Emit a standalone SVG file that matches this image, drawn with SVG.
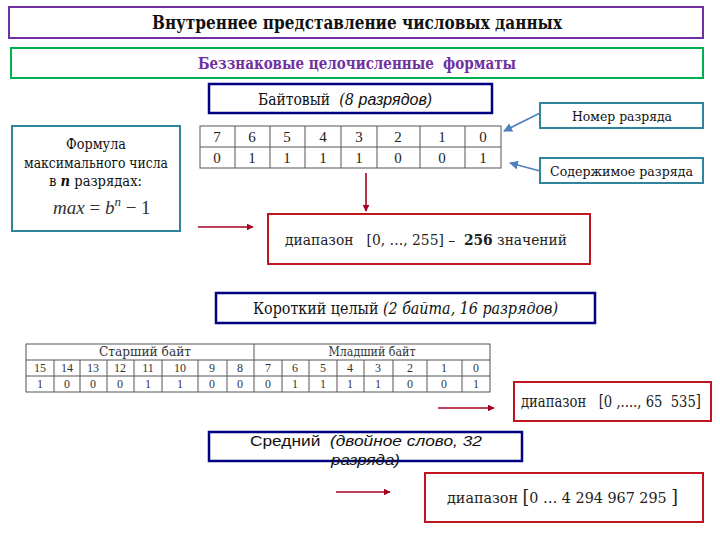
<svg xmlns="http://www.w3.org/2000/svg" width="720" height="540" viewBox="0 0 720 540">
<defs>
<style>
.s{font-family:"DejaVu Serif Condensed","DejaVu Serif","Liberation Serif",serif;fill:#111}
.a{font-family:"Liberation Sans","DejaVu Sans",Arial,sans-serif;fill:#111}
.navy{fill:#fff;stroke:#000080;stroke-width:2.5}
.redb{fill:#fff;stroke:#C0141E;stroke-width:2}
.tealb{fill:#fff;stroke:#31849B;stroke-width:2}
.grid{fill:none;stroke:#555;stroke-width:1}
.tc{font-family:"Liberation Serif","DejaVu Serif",serif;fill:#222;text-anchor:middle}
.tcc{font-family:"DejaVu Serif Condensed","DejaVu Serif",serif;fill:#333;text-anchor:middle}
.ra{stroke:#A50021;stroke-width:1.6;fill:none;marker-end:url(#rh)}
.ba{stroke:#4F81BD;stroke-width:1.6;fill:none;marker-end:url(#bh)}
</style>
<marker id="rh" viewBox="0 0 10 10" refX="9" refY="5" markerWidth="7" markerHeight="7" markerUnits="userSpaceOnUse" orient="auto"><path d="M0,0 L10,5 L0,10 z" fill="#A50021"/></marker>
<marker id="bh" viewBox="0 0 10 10" refX="9" refY="5" markerWidth="9" markerHeight="9" markerUnits="userSpaceOnUse" orient="auto"><path d="M0,0 L10,5 L0,10 z" fill="#4F81BD"/></marker>
</defs>
<rect width="720" height="540" fill="#fff"/>

<g id="title">
<rect x="9" y="7" width="694" height="31" fill="#fff" stroke="#7030A0" stroke-width="2"/>
<text class="s" x="152" y="29" font-size="19" font-weight="bold" textLength="410" lengthAdjust="spacingAndGlyphs">Внутреннее представление числовых данных</text>
</g>

<g id="subtitle">
<rect x="11" y="48" width="692" height="30" fill="#fff" stroke="#00B050" stroke-width="2"/>
<text class="s" x="198" y="69" font-size="17" font-weight="bold" style="fill:#7030A0" textLength="318" lengthAdjust="spacingAndGlyphs" xml:space="preserve">Беззнаковые целочисленные  форматы</text>
</g>

<g id="byte-header">
<rect class="navy" x="209" y="84" width="283" height="29"/>
<text class="s" x="258" y="105" font-size="16" xml:space="preserve"><tspan textLength="72" lengthAdjust="spacingAndGlyphs">Байтовый</tspan>  <tspan font-style="italic">(8 </tspan><tspan class="a" font-style="italic">разрядов)</tspan></text>
</g>

<g id="formula">
<rect class="tealb" x="12" y="126" width="168" height="105"/>
<text class="s" x="66" y="149" font-size="15" textLength="60" lengthAdjust="spacingAndGlyphs">Формула</text>
<text class="s" x="24" y="168" font-size="15" textLength="144" lengthAdjust="spacingAndGlyphs">максимального числа</text>
<text class="s" x="49" y="186" font-size="15" textLength="93" lengthAdjust="spacingAndGlyphs">в <tspan font-weight="bold" font-style="italic">n</tspan> разрядах:</text>
<text x="53" y="214" font-size="19" font-family="Liberation Serif,DejaVu Serif,serif" fill="#333" xml:space="preserve"><tspan font-style="italic">max</tspan> = <tspan font-style="italic">b</tspan><tspan font-style="italic" font-size="13" dy="-8">n</tspan><tspan dy="8"> − 1</tspan></text>
</g>

<g id="byte-table">
<rect class="grid" x="200" y="126" width="301" height="42"/>
<path class="grid" d="M200,147H501M235,126V168M270,126V168M305,126V168M341,126V168M377,126V168M420,126V168M465,126V168"/>
<g class="tc" font-size="15">
<text x="217" y="142">7</text><text x="252" y="142">6</text><text x="287" y="142">5</text><text x="323" y="142">4</text><text x="359" y="142">3</text><text x="398" y="142">2</text><text x="442" y="142">1</text><text x="483" y="142">0</text>
<text x="217" y="163">0</text><text x="252" y="163">1</text><text x="287" y="163">1</text><text x="323" y="163">1</text><text x="359" y="163">1</text><text x="398" y="163">0</text><text x="442" y="163">0</text><text x="483" y="163">1</text>
</g>
</g>

<g id="bit-number">
<rect class="tealb" x="540" y="103" width="163" height="25"/>
<text class="s" x="572" y="121" font-size="13" textLength="100" lengthAdjust="spacingAndGlyphs">Номер разряда</text>
</g>

<g id="bit-content">
<rect class="tealb" x="540" y="158" width="163" height="25"/>
<text class="s" x="550" y="176" font-size="13" textLength="143" lengthAdjust="spacingAndGlyphs">Содержимое разряда</text>
</g>

<g id="range-8">
<rect class="redb" x="268" y="214" width="322" height="50"/>
<text class="s" x="285" y="245" font-size="15" style="fill:#222" textLength="282" lengthAdjust="spacingAndGlyphs" xml:space="preserve">диапазон   [0, …, 255] –  <tspan font-weight="bold">256</tspan> значений</text>
</g>

<g id="short-header">
<rect class="navy" x="216" y="293" width="379" height="30"/>
<text class="s" x="253" y="314" font-size="16" textLength="305" lengthAdjust="spacingAndGlyphs">Короткий целый <tspan font-style="italic">(2 байта, 16 разрядов)</tspan></text>
</g>

<g id="short-table">
<rect class="grid" x="26" y="344" width="464" height="48"/>
<path class="grid" d="M26,360H490M26,376H490M254,344V392M54,360V392M80,360V392M107,360V392M134,360V392M162,360V392M198,360V392M227,360V392M282,360V392M309,360V392M337,360V392M364,360V392M393,360V392M427,360V392M462,360V392"/>
<g class="tcc" font-size="12">
<text x="145" y="356" textLength="92" lengthAdjust="spacingAndGlyphs">Старший байт</text><text x="372" y="356" textLength="87" lengthAdjust="spacingAndGlyphs">Младший байт</text>
</g>
<g class="tc" font-size="12" style="fill:#333">
<text x="40" y="372">15</text><text x="67" y="372">14</text><text x="93" y="372">13</text><text x="120" y="372">12</text><text x="148" y="372">11</text><text x="180" y="372">10</text><text x="212" y="372">9</text><text x="240" y="372">8</text>
<text x="268" y="372">7</text><text x="295" y="372">6</text><text x="323" y="372">5</text><text x="350" y="372">4</text><text x="378" y="372">3</text><text x="410" y="372">2</text><text x="444" y="372">1</text><text x="476" y="372">0</text>
<text x="40" y="388">1</text><text x="67" y="388">0</text><text x="93" y="388">0</text><text x="120" y="388">0</text><text x="148" y="388">1</text><text x="180" y="388">1</text><text x="212" y="388">0</text><text x="240" y="388">0</text>
<text x="268" y="388">0</text><text x="295" y="388">1</text><text x="323" y="388">1</text><text x="350" y="388">1</text><text x="378" y="388">1</text><text x="410" y="388">0</text><text x="444" y="388">0</text><text x="476" y="388">1</text>
</g>
</g>

<g id="range-16">
<rect class="redb" x="514" y="382" width="197" height="39"/>
<text class="s" x="521" y="407" font-size="16" style="fill:#222" textLength="180" lengthAdjust="spacingAndGlyphs" xml:space="preserve">диапазон   [0 ,...., 65  535]</text>
</g>

<g id="dword-header">
<rect class="navy" x="209" y="432" width="313" height="29"/>
<text class="a" x="250" y="446" font-size="15" textLength="232" lengthAdjust="spacingAndGlyphs" xml:space="preserve">Средний  <tspan font-style="italic">(двойное слово, 32</tspan></text>
<text class="a" x="331" y="465" font-size="15" font-style="italic" textLength="69" lengthAdjust="spacingAndGlyphs">разряда)</text>
</g>

<g id="range-32">
<rect class="redb" x="425" y="473" width="278" height="49"/>
<text class="s" x="447" y="503" font-size="15" style="fill:#222" textLength="231" lengthAdjust="spacingAndGlyphs" xml:space="preserve">диапазон <tspan font-size="18">[</tspan>0 … 4 294 967 295 <tspan font-size="18">]</tspan></text>
</g>

<g id="connectors">
<line class="ba" x1="540" y1="113" x2="504" y2="131"/>
<line class="ba" x1="540" y1="171" x2="510" y2="163"/>
<line class="ra" x1="366" y1="173" x2="366" y2="211"/>
<line class="ra" x1="198" y1="227" x2="253" y2="227"/>
<line class="ra" x1="438" y1="408" x2="494" y2="408"/>
<line class="ra" x1="336" y1="492" x2="390" y2="492"/>
</g>
</svg>
